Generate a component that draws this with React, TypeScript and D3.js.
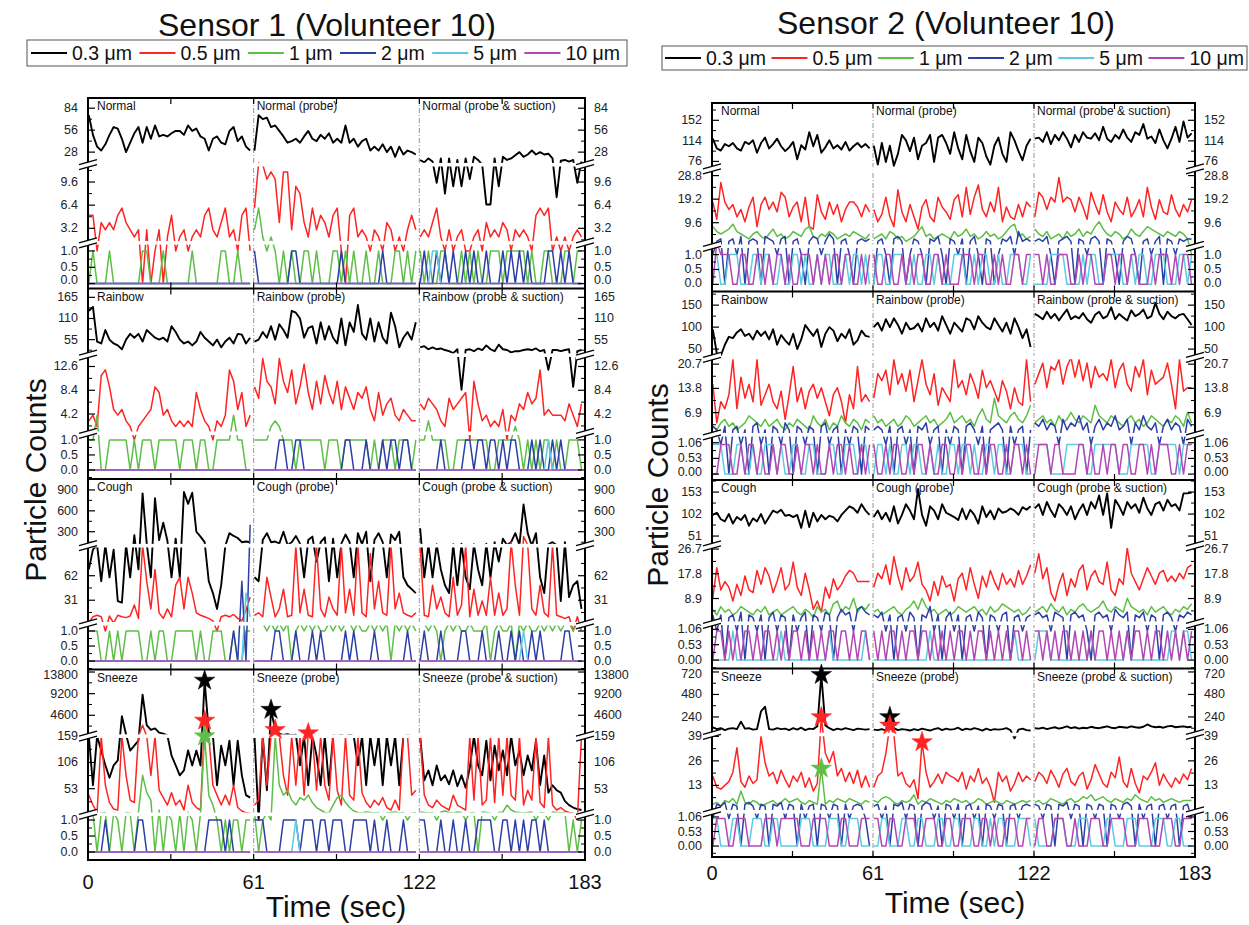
import React from 'react';
import * as d3 from 'd3';

type Seg = string | number[];
type Series = Seg[];

const FONT = "'Liberation Sans', Arial, Helvetica, sans-serif";

const TIME_TICKS = [0, 61, 122, 183];
const EDGE_TICKS = [30.5, 61, 91.5, 122, 152.5];
const ACTIVITIES = ['Normal', 'Rainbow', 'Cough', 'Sneeze'];
const CONDITIONS = ['', ' (probe)', ' (probe & suction)'];
const SIZES = ['0.3 μm', '0.5 μm', '1 μm', '2 μm', '5 μm', '10 μm'];
const COLORS = ['#000000', '#ff2424', '#5dbf47', '#2b3fa6', '#5ccbe0', '#b247b4'];
const WIDTHS = [1.9, 1.5, 1.5, 1.5, 1.5, 1.5];

const ZERO = '0000000000000000000000000000000000000000';

// ---------- Sensor 1 ----------
const S1_BANDS = [
  [[-0.15, 1.25], [1.2, 12], [12, 97]],
  [[-0.3, 1.22], [0.8, 14.6], [14.6, 188]],
  [[-0.28, 1.24], [1.2, 100], [100, 1057]],
  [[-0.25, 1.18], [1.4, 159], [159, 14335]],
];
const S1_TICKS = [
  [['0.0', '0.5', '1.0'], ['3.2', '6.4', '9.6'], ['28', '56', '84']],
  [['0.0', '0.5', '1.0'], ['4.2', '8.4', '12.6'], ['55', '110', '165']],
  [['0.0', '0.5', '1.0'], ['31', '62'], ['300', '600', '900']],
  [['0.0', '0.5', '1.0'], ['53', '106', '159'], ['4600', '9200', '13800']],
];

const S1_NORMAL_03: Series = [
  [75, 50, 35, 30, 38, 50, 60, 58, 45, 28, 40, 52, 60, 40, 60, 45, 62, 48, 50, 48, 52, 55, 55, 50, 62, 55, 58, 48, 45, 30, 45, 48, 40, 38, 55, 60, 42, 48, 35, 30],
  [30, 75, 70, 72, 60, 62, 55, 48, 40, 42, 45, 40, 48, 55, 45, 42, 50, 45, 52, 40, 45, 40, 62, 40, 45, 35, 42, 45, 30, 35, 30, 38, 28, 35, 22, 35, 25, 30, 28, 25],
  [18, 15, 20, 16, 9.5, 20, 8, 20, 9, 18, 9, 20, 10, 22, 18, 12, 6.5, 6.5, 20, 9, 22, 18, 20, 24, 28, 22, 25, 30, 25, 28, 25, 26, 20, 7.5, 17, 18, 16, 18, 9.5, 16],
];
const S1_NORMAL_05: Series = [
  [5, 5, 1, 4, 3, 4, 3, 5, 6, 4, 3, 2, 3, 0, 3, 0, 1, 3, 0, 2, 5, 1, 2, 3, 1, 2, 3, 2, 5, 6, 3, 2, 4, 6, 2, 3, 1, 5, 6, 1],
  [6, 14, 12, 10, 11, 10, 4, 11, 11, 3, 9, 8, 4, 2, 6, 3, 5, 4, 2, 5, 6, 1, 0, 5, 6, 2, 3, 2, 1, 3, 2, 1, 4, 3, 1, 2, 1, 3, 5, 3],
  [2, 3, 2, 4, 6, 2, 1, 3, 1, 2, 3, 1, 1, 2, 3, 1, 4, 2, 3, 2, 4, 3, 1, 3, 2, 3, 2, 1, 5, 6, 5, 6, 1, 2, 1, 2, 1, 2, 3, 2],
];
const S1_NORMAL_1: Series = ['0100010000000110001000000100000011001000', '3621210101001101000110101001001000110101', '1010011000101010011101111101001100011011'];
const S1_NORMAL_2: Series = [ZERO, '1000000001100000000001000000000100000000', '0100101010010100100010101010000110101000'];
const S1_NORMAL_5: Series = [ZERO, ZERO, '0001100000000000000000000000000000000000'];
const S1_NORMAL_10: Series = [ZERO, ZERO, ZERO];

const S1_RAINBOW_03: Series = [
  [130, 140, 50, 45, 80, 55, 45, 40, 30, 55, 70, 60, 70, 50, 80, 70, 60, 55, 60, 50, 90, 75, 55, 45, 50, 40, 50, 75, 60, 50, 40, 55, 35, 50, 60, 45, 70, 68, 45, 60],
  [50, 55, 75, 60, 90, 55, 95, 80, 60, 130, 125, 110, 60, 85, 90, 45, 100, 55, 90, 60, 45, 110, 40, 100, 75, 145, 70, 55, 110, 50, 100, 60, 45, 125, 90, 35, 60, 75, 55, 100],
  [35, 38, 30, 35, 30, 32, 28, 25, 20, 30, 8.5, 28, 30, 25, 32, 28, 40, 30, 25, 42, 30, 28, 22, 25, 25, 28, 30, 28, 32, 25, 28, 12, 28, 28, 25, 28, 30, 9, 25, 28],
];
const S1_RAINBOW_05: Series = [
  [3, 4, 2, 11, 12, 9, 5, 4, 5, 3, 2, 1, 2, 3, 4, 5, 9, 8, 4, 5, 3, 2, 3, 2, 3, 2, 8, 5, 3, 2, 1, 3, 2, 4, 12, 10, 5, 8, 2, 4],
  [9, 7, 14, 10, 9, 6, 14, 10, 8, 12, 6, 9, 13, 8, 5, 10, 6, 11, 8, 6, 10, 5, 9, 7, 5, 8, 7, 9, 5, 3, 8, 4, 6, 7, 4, 3, 5, 4, 3, 3],
  [6, 5, 7, 6, 5, 3, 2, 7, 5, 6, 7, 8, 1, 10, 6, 3, 4, 2, 3, 2, 5, 1, 4, 3, 6, 5, 8, 6, 7, 12, 4, 5, 4, 4, 4, 3, 6, 4, 2, 6],
];
const S1_RAINBOW_1: Series = ['1140011111010111011111011101100111141100', '1111232111011111101110111111010111011101', '1131111001111111100111121010101101001110'];
const S1_RAINBOW_2: Series = [ZERO, '0000001100110000000000110001000101101100', '0000010000011011011010110001010010100000'];
const S1_RAINBOW_5: Series = [ZERO, ZERO, '0000000000000000000000000000000100000000'];
const S1_RAINBOW_10: Series = [ZERO, ZERO, ZERO];

const S1_COUGH_03: Series = [
  [70, 95, 110, 55, 110, 60, 95, 30, 28, 110, 60, 250, 70, 850, 130, 60, 780, 180, 430, 170, 60, 200, 60, 870, 700, 860, 300, 230, 150, 55, 40, 20, 50, 100, 280, 240, 210, 150, 160, 150],
  [60, 55, 180, 280, 150, 160, 130, 300, 110, 150, 240, 130, 60, 180, 230, 80, 150, 220, 55, 200, 60, 130, 260, 150, 60, 280, 120, 300, 55, 180, 280, 150, 60, 260, 180, 300, 60, 50, 45, 40],
  [350, 60, 110, 60, 120, 70, 50, 40, 120, 50, 130, 60, 45, 120, 70, 50, 130, 60, 150, 80, 200, 110, 150, 280, 110, 690, 280, 100, 280, 60, 40, 120, 150, 110, 30, 150, 35, 50, 55, 20],
];
const S1_COUGH_05: Series = [
  [3, 10, 12, 10, 1, 11, 2, 12, 10, 9, 11, 25, 8, 110, 55, 20, 70, 15, 8, 20, 10, 50, 60, 20, 60, 40, 15, 12, 10, 8, 5, 1, 10, 12, 10, 13, 8, 5, 18, 35],
  [12, 15, 10, 60, 35, 10, 20, 45, 10, 12, 100, 15, 45, 12, 10, 110, 20, 10, 35, 20, 12, 100, 15, 45, 12, 110, 15, 10, 90, 20, 55, 15, 12, 110, 20, 40, 15, 12, 10, 15],
  [100, 12, 10, 50, 20, 35, 15, 10, 60, 12, 25, 110, 10, 45, 12, 30, 12, 60, 12, 40, 12, 20, 150, 50, 12, 230, 110, 20, 12, 50, 15, 10, 110, 12, 10, 8, 10, 1, 10, 1],
];
const S1_COUGH_1: Series = ['1110010101111001011001111101001110010011', '2221212120121212112121221211212120212121', '2212101212112111201211202121121212122121'];
const S1_COUGH_2: Series = [
  [0, 0, 0, 0, 0, 0, 0, 0, 0, 0, 0, 0, 0, 0, 0, 0, 0, 0, 0, 0, 0, 0, 0, 0, 0, 0, 0, 0, 0, 0, 0, 0, 0, 0, 0, 1, 0, 55, 0, 400],
  '0000011000100010100000101000010000000100',
  '0100010000110001000100101001010000011000',
];
const S1_COUGH_5: Series = [
  [0, 0, 0, 0, 0, 0, 0, 0, 0, 0, 0, 0, 0, 0, 0, 0, 0, 0, 0, 0, 0, 0, 0, 0, 0, 0, 0, 0, 0, 0, 0, 0, 0, 0, 0, 0, 0, 0, 40, 10],
  ZERO,
  '0000000000000000000000000100000000000000',
];
const S1_COUGH_10: Series = [ZERO, ZERO, ZERO];

const S1_SNEEZE_03: Series = [
  [159, 60, 170, 130, 100, 75, 100, 110, 4400, 500, 130, 140, 150, 9000, 2500, 1500, 1800, 900, 700, 300, 120, 100, 80, 90, 130, 100, 130, 100, 12000, 1000, 300, 60, 140, 100, 150, 60, 150, 80, 40, 35],
  [159, 1, 200, 50, 5800, 1500, 700, 400, 600, 300, 450, 100, 160, 60, 170, 120, 60, 200, 60, 300, 200, 350, 160, 400, 200, 100, 170, 60, 170, 100, 170, 60, 170, 100, 170, 60, 170, 300, 200, 160],
  [160, 70, 90, 60, 100, 70, 80, 62, 90, 58, 80, 55, 95, 160, 100, 80, 150, 70, 140, 90, 130, 80, 170, 100, 130, 80, 120, 90, 150, 60, 120, 45, 60, 50, 45, 28, 20, 15, 12, 10],
];
const S1_SNEEZE_05: Series = [
  [40, 20, 5, 160, 60, 25, 12, 10, 160, 80, 30, 25, 160, 2500, 160, 80, 160, 50, 35, 20, 45, 20, 30, 10, 60, 25, 15, 10, 3500, 160, 60, 40, 20, 40, 20, 60, 15, 8, 4, 4],
  [20, 30, 160, 60, 160, 1500, 160, 80, 40, 160, 60, 160, 40, 800, 160, 50, 160, 60, 30, 160, 50, 20, 160, 40, 30, 160, 45, 25, 15, 30, 20, 35, 15, 10, 30, 10, 160, 160, 40, 50],
  [160, 40, 20, 15, 30, 20, 15, 10, 40, 20, 15, 10, 160, 30, 160, 20, 30, 160, 25, 160, 40, 160, 40, 30, 160, 20, 50, 30, 160, 25, 15, 160, 20, 10, 15, 8, 5, 4, 1, 160],
];
const S1_SNEEZE_1: Series = [
  [5, 4, 0, 4, 5, 0, 4, 1, 0, 5, 4, 0, 6, 80, 45, 30, 0, 10, 0, 4, 1, 0, 4, 0, 6, 1, 0, 4, 159, 40, 20, 1, 0, 1, 0, 1, 1, 0, 1, 1],
  [5, 0, 1, 4, 1, 159, 60, 40, 50, 30, 20, 35, 30, 40, 25, 15, 10, 5, 4, 20, 35, 40, 25, 15, 8, 5, 4, 6, 5, 4, 5, 1, 4, 5, 6, 4, 5, 1, 4, 5],
  [6, 5, 4, 5, 1, 6, 8, 5, 4, 6, 5, 1, 4, 5, 0, 6, 5, 4, 1, 5, 6, 20, 10, 6, 5, 4, 5, 6, 1, 5, 4, 1, 6, 5, 4, 5, 0, 1, 0, 1],
];
const S1_SNEEZE_2: Series = ['0000100000001100000000000000011110100000', '1110000111101110110111001111010010001000', '1100010010010011110011010101101000000000'];
const S1_SNEEZE_5: Series = [ZERO, '0000000000100000000000000000000000000000', ZERO];
const S1_SNEEZE_10: Series = [ZERO, ZERO, ZERO];

// star markers: [activity, segment, index, series]
const S1_STARS = [[3, 0, 28, 0], [3, 0, 28, 1], [3, 0, 28, 2], [3, 1, 4, 0], [3, 1, 5, 1], [3, 1, 13, 1]];

// ---------- Sensor 2 ----------
const S2_BANDS = [
  [[-0.24, 1.28], [0, 31.5], [62, 184]],
  [[-0.2, 1.33], [0.6, 22.6], [31, 181]],
  [[-0.29, 1.27], [0, 27.8], [28, 181]],
  [[-0.4, 1.25], [-1, 40], [53, 757]],
];
const S2_TICKS = [
  [['0.0', '0.5', '1.0'], ['9.6', '19.2', '28.8'], ['76', '114', '152']],
  [['0.00', '0.53', '1.06'], ['6.9', '13.8', '20.7'], ['50', '100', '150']],
  [['0.00', '0.53', '1.06'], ['8.9', '17.8', '26.7'], ['51', '102', '153']],
  [['0.00', '0.53', '1.06'], ['13', '26', '39'], ['240', '480', '720']],
];

const S2_NORMAL_03: Series = [
  [118, 100, 96, 108, 104, 110, 100, 96, 112, 108, 115, 92, 110, 120, 100, 108, 118, 104, 95, 102, 112, 80, 106, 98, 130, 104, 125, 92, 102, 115, 100, 106, 98, 112, 96, 104, 110, 102, 108, 100],
  [105, 70, 110, 75, 105, 68, 90, 125, 115, 95, 120, 80, 105, 110, 125, 75, 120, 125, 110, 90, 130, 100, 80, 125, 95, 75, 120, 110, 85, 70, 105, 120, 90, 75, 130, 115, 95, 78, 105, 118],
  [118, 120, 112, 130, 108, 125, 115, 130, 118, 102, 125, 112, 130, 120, 118, 128, 115, 140, 118, 112, 125, 118, 135, 120, 112, 130, 125, 145, 118, 122, 110, 135, 115, 100, 118, 140, 112, 150, 120, 128],
];
const S2_NORMAL_05: Series = [
  [18, 11, 26, 18, 15, 17, 12, 15, 10, 16, 20, 8, 17, 20, 15, 18, 14, 22, 20, 12, 16, 18, 10, 20, 8, 7, 21, 14, 11, 18, 13, 17, 10, 15, 18, 18, 16, 12, 17, 14],
  [15, 10, 13, 20, 12, 8, 23, 14, 10, 17, 12, 7, 16, 19, 12, 10, 20, 16, 14, 11, 19, 21, 12, 24, 13, 20, 25, 15, 12, 18, 14, 24, 10, 16, 12, 11, 17, 12, 18, 16],
  [12, 22, 20, 15, 20, 18, 28, 18, 20, 19, 14, 20, 16, 11, 22, 17, 13, 21, 14, 10, 18, 15, 13, 20, 12, 15, 19, 12, 24, 16, 11, 19, 14, 13, 21, 15, 12, 17, 14, 19],
];
const S2_NORMAL_1: Series = [
  [8, 6, 5, 6, 7, 9, 6, 5, 4, 3, 5, 6, 4, 3, 5, 7, 4, 5, 3, 4, 6, 5, 4, 7, 8, 4, 3, 5, 4, 6, 5, 3, 4, 5, 4, 6, 5, 4, 3, 5],
  [3, 4, 5, 3, 6, 5, 3, 4, 2, 3, 4, 6, 8, 4, 5, 3, 4, 5, 4, 3, 6, 4, 5, 7, 4, 5, 3, 4, 6, 4, 5, 3, 4, 6, 8, 9, 4, 5, 3, 4],
  [7, 5, 4, 6, 3, 4, 5, 3, 6, 4, 5, 7, 4, 6, 5, 8, 10, 7, 5, 4, 6, 5, 3, 4, 7, 5, 4, 6, 8, 7, 6, 5, 4, 6, 5, 4, 6, 5, 3, 1],
];
const S2_NORMAL_2: Series = ['1230231402320432134023102431253023102323', '0231034201321032410321302410320132416232', '2324102342032134203210243102312403213233'];
const S2_NORMAL_5: Series = ['1100111000110110010011010010110001011010', '0110011100100110100011100101100100111001', '0000111100001011001111001011001110001101'];
const S2_NORMAL_10: Series = ['0211100110011010110100111010101101100101', '1001100101011001101000111011001010011011', '1101001110010110001101101100010111010110'];

const S2_RAINBOW_03: Series = [
  [95, 40, 35, 60, 78, 75, 88, 95, 80, 85, 72, 92, 80, 90, 72, 95, 60, 82, 70, 60, 85, 50, 72, 105, 92, 80, 95, 55, 85, 100, 92, 68, 85, 75, 95, 60, 70, 92, 80, 78],
  [100, 110, 92, 118, 100, 120, 105, 85, 110, 95, 98, 108, 90, 120, 100, 110, 92, 125, 105, 85, 110, 100, 90, 120, 115, 95, 125, 110, 100, 95, 120, 105, 90, 110, 85, 120, 100, 75, 95, 55],
  [130, 125, 118, 135, 120, 130, 115, 128, 140, 118, 125, 120, 132, 118, 110, 128, 135, 120, 125, 145, 118, 130, 122, 115, 138, 125, 130, 140, 120, 125, 155, 130, 118, 135, 125, 120, 128, 130, 118, 105],
];
const S2_RAINBOW_05: Series = [
  [15, 4, 10, 8, 12, 22, 8, 17, 11, 15, 10, 22, 9, 12, 15, 10, 8, 13, 5, 12, 20, 10, 14, 8, 13, 15, 11, 14, 10, 6, 12, 14, 10, 4, 12, 8, 20, 10, 12, 10],
  [11, 18, 16, 19, 12, 22, 15, 18, 13, 19, 10, 16, 22, 15, 12, 18, 9, 14, 12, 10, 22, 14, 16, 12, 18, 15, 11, 19, 14, 16, 13, 10, 16, 13, 8, 14, 10, 9, 22, 10],
  [15, 18, 21, 14, 20, 19, 22, 15, 20, 23, 17, 22, 16, 21, 14, 20, 17, 18, 16, 22, 14, 19, 21, 15, 13, 20, 17, 22, 12, 19, 15, 16, 17, 21, 15, 8, 22, 13, 14, 14],
];
const S2_RAINBOW_1: Series = [
  [3, 2, 4, 5, 3, 4, 2, 3, 4, 6, 5, 4, 3, 5, 3, 4, 5, 3, 2, 4, 3, 5, 4, 3, 2, 6, 4, 3, 5, 2, 4, 3, 6, 4, 3, 5, 4, 2, 5, 4],
  [6, 4, 5, 3, 4, 5, 3, 4, 6, 5, 3, 4, 5, 6, 4, 5, 3, 4, 5, 7, 4, 5, 6, 4, 5, 3, 6, 8, 5, 4, 11, 6, 5, 4, 6, 7, 5, 4, 6, 9],
  [4, 5, 6, 4, 5, 3, 6, 4, 5, 7, 5, 4, 6, 5, 4, 9, 6, 5, 4, 6, 5, 4, 3, 5, 6, 4, 5, 3, 4, 6, 5, 4, 3, 5, 4, 6, 5, 3, 7, 4],
];
const S2_RAINBOW_2: Series = ['3213023120341203214203213203412302132032', '2321302312032412302132034213023420312302', '4352431524362413524362351426324135243153'];
const S2_RAINBOW_5: Series = ['1110001100100111010011001100011001110110', '0110100110110010100110110100110110011100', '1111000011111001111110001111100111110111'];
const S2_RAINBOW_10: Series = ['0011100101101001011001011010010110100101', '1001011001011010011001011001011001011010', '0111011000011010010110110011010111001011'];

const S2_COUGH_03: Series = [
  [100, 105, 90, 85, 102, 80, 95, 88, 100, 75, 92, 85, 102, 80, 95, 110, 105, 112, 98, 100, 95, 100, 70, 110, 72, 105, 85, 100, 90, 98, 95, 85, 100, 110, 120, 115, 105, 125, 110, 100],
  [95, 110, 90, 105, 85, 120, 80, 100, 125, 110, 90, 160, 100, 75, 120, 110, 90, 125, 105, 100, 95, 88, 115, 90, 112, 100, 80, 120, 95, 110, 90, 115, 105, 108, 115, 110, 100, 118, 112, 120],
  [115, 125, 100, 130, 110, 95, 125, 115, 100, 120, 90, 110, 125, 100, 130, 115, 145, 100, 150, 70, 135, 120, 100, 130, 115, 125, 105, 140, 115, 100, 125, 130, 110, 135, 120, 125, 110, 150, 150, 152],
];
const S2_COUGH_05: Series = [
  [9, 20, 12, 15, 13, 8, 14, 10, 17, 12, 11, 19, 14, 20, 17, 11, 15, 20, 12, 14, 22, 13, 10, 18, 12, 5, 8, 4, 13, 9, 16, 12, 14, 17, 19, 18, 15, 15, 15, 15],
  [13, 18, 16, 21, 14, 24, 17, 12, 20, 15, 17, 22, 14, 12, 8, 15, 10, 17, 13, 14, 8, 16, 18, 12, 20, 14, 9, 17, 13, 19, 15, 12, 18, 14, 16, 13, 19, 14, 17, 21],
  [18, 25, 16, 20, 11, 8, 14, 18, 10, 16, 13, 19, 21, 12, 17, 19, 15, 14, 22, 12, 10, 16, 14, 27, 18, 15, 12, 16, 20, 17, 14, 18, 19, 15, 17, 15, 18, 16, 20, 21],
];
const S2_COUGH_1: Series = [
  [5, 3, 6, 4, 5, 3, 4, 6, 5, 4, 3, 5, 4, 6, 3, 4, 5, 3, 4, 5, 6, 4, 3, 5, 4, 2, 6, 4, 5, 3, 7, 8, 4, 6, 5, 9, 4, 6, 5, 7],
  [4, 5, 3, 4, 5, 6, 4, 3, 5, 6, 8, 5, 9, 6, 4, 5, 3, 4, 5, 3, 4, 6, 5, 4, 5, 6, 4, 5, 3, 6, 4, 5, 7, 6, 5, 4, 5, 3, 4, 6],
  [4, 5, 6, 4, 7, 5, 4, 6, 3, 5, 4, 6, 7, 5, 4, 5, 6, 8, 5, 4, 6, 5, 4, 9, 6, 5, 4, 5, 3, 6, 4, 5, 6, 4, 3, 5, 4, 6, 5, 7],
];
const S2_COUGH_2: Series = ['3130231403213024132031240321430253415643', '3241302314203261302413023142032134023123', '3423143203423103423153240324132034213243'];
const S2_COUGH_5: Series = ['0000010000000000010000000000010000000010', '0000000000000010000000000000000000010000', '0111000000000010000000010000000000110110'];
const S2_COUGH_10: Series = ['0110101011010110101011010101011011010110', '1010110101101101010101101011010101011010', '1101010110101010110101010110101101010101'];

const S2_SNEEZE_03: Series = [
  [130, 110, 120, 100, 115, 120, 110, 190, 115, 120, 105, 110, 300, 350, 110, 105, 120, 110, 115, 100, 120, 105, 125, 100, 115, 110, 140, 690, 150, 120, 100, 115, 105, 120, 110, 100, 115, 110, 105, 110],
  [105, 100, 110, 95, 240, 120, 100, 110, 105, 95, 110, 100, 115, 105, 95, 110, 120, 100, 115, 105, 110, 125, 100, 115, 105, 120, 110, 95, 115, 100, 110, 105, 110, 120, 100, 38, 105, 115, 100, 95],
  [120, 115, 125, 110, 120, 130, 115, 125, 140, 120, 130, 115, 125, 120, 135, 125, 120, 130, 140, 125, 120, 135, 130, 125, 140, 130, 125, 135, 160, 140, 130, 135, 125, 140, 145, 130, 135, 140, 130, 135],
];
const S2_SNEEZE_05: Series = [
  [18, 12, 11, 13, 15, 20, 33, 15, 12, 18, 14, 16, 39, 25, 18, 20, 14, 21, 16, 12, 18, 15, 20, 12, 17, 10, 14, 240, 30, 25, 31, 18, 22, 15, 20, 14, 21, 12, 18, 12],
  [12, 18, 20, 30, 150, 40, 18, 20, 14, 12, 16, 6, 36, 20, 12, 15, 19, 14, 20, 18, 17, 15, 20, 11, 18, 15, 22, 14, 17, 12, 4, 20, 15, 18, 10, 14, 20, 15, 18, 16],
  [15, 20, 18, 14, 21, 17, 12, 19, 22, 15, 13, 18, 20, 11, 16, 24, 19, 14, 12, 20, 17, 28, 15, 12, 22, 14, 9, 18, 16, 20, 25, 13, 19, 15, 12, 17, 14, 19, 16, 22],
];
const S2_SNEEZE_1: Series = [
  [3, 4, 2, 5, 4, 6, 3, 10, 4, 3, 5, 4, 2, 3, 4, 5, 3, 4, 6, 4, 5, 6, 4, 3, 5, 4, 3, 22, 3, 5, 4, 6, 5, 4, 6, 5, 4, 3, 5, 4],
  [5, 4, 6, 7, 6, 4, 3, 5, 4, 5, 8, 3, 5, 4, 6, 5, 4, 3, 5, 4, 6, 5, 4, 5, 3, 4, 6, 5, 3, 4, 5, 4, 3, 5, 4, 3, 4, 5, 4, 5],
  [4, 5, 3, 4, 6, 5, 4, 3, 5, 6, 4, 5, 7, 6, 8, 5, 6, 7, 5, 4, 6, 5, 4, 6, 5, 8, 6, 5, 4, 7, 5, 6, 4, 5, 6, 5, 4, 5, 5, 5],
];
const S2_SNEEZE_2: Series = ['1324132034213203241320312303213203123210', '2312032413202431203213023120321320231232', '3213203241320321320321342031230231230231'];
const S2_SNEEZE_5: Series = ['1100011000111001100000111000011100111000', '0011000110011000110011000110010110001110', '1000011100011100001100011100001110011000'];
const S2_SNEEZE_10: Series = ['0111001110000111011111000111100011000111', '1100110011100111001100111001101001110011', '0110011100100011100111100011100011100111'];

const S2_STARS = [[3, 0, 27, 0], [3, 0, 27, 1], [3, 0, 27, 2], [3, 1, 4, 0], [3, 1, 4, 1], [3, 1, 12, 1]];

const parseSeg = (s: Seg): number[] => (typeof s === 'string' ? s.split('').map(Number) : s);

const SENSORS = [
  {
    title: 'Sensor 1 (Volunteer 10)', titleX: 327, titleY: 36,
    legend: { x: 27, y: 40, w: 600, h: 26, start: 31, end: 620 },
    x0: 88, x1: 585, top: 98, bottom: 860,
    xLabelY: 889, timeX: 336, timeY: 917, pcX: 35, pcY: 480,
    bands: S1_BANDS, ticks: S1_TICKS, stars: S1_STARS,
    data: [
      [S1_NORMAL_03, S1_NORMAL_05, S1_NORMAL_1, S1_NORMAL_2, S1_NORMAL_5, S1_NORMAL_10],
      [S1_RAINBOW_03, S1_RAINBOW_05, S1_RAINBOW_1, S1_RAINBOW_2, S1_RAINBOW_5, S1_RAINBOW_10],
      [S1_COUGH_03, S1_COUGH_05, S1_COUGH_1, S1_COUGH_2, S1_COUGH_5, S1_COUGH_10],
      [S1_SNEEZE_03, S1_SNEEZE_05, S1_SNEEZE_1, S1_SNEEZE_2, S1_SNEEZE_5, S1_SNEEZE_10],
    ],
  },
  {
    title: 'Sensor 2 (Volunteer 10)', titleX: 946, titleY: 34,
    legend: { x: 662, y: 46, w: 585, h: 24, start: 665, end: 1244 },
    x0: 712, x1: 1195, top: 103, bottom: 857,
    xLabelY: 880, timeX: 955, timeY: 913, pcX: 657, pcY: 485,
    bands: S2_BANDS, ticks: S2_TICKS, stars: S2_STARS,
    data: [
      [S2_NORMAL_03, S2_NORMAL_05, S2_NORMAL_1, S2_NORMAL_2, S2_NORMAL_5, S2_NORMAL_10],
      [S2_RAINBOW_03, S2_RAINBOW_05, S2_RAINBOW_1, S2_RAINBOW_2, S2_RAINBOW_5, S2_RAINBOW_10],
      [S2_COUGH_03, S2_COUGH_05, S2_COUGH_1, S2_COUGH_2, S2_COUGH_5, S2_COUGH_10],
      [S2_SNEEZE_03, S2_SNEEZE_05, S2_SNEEZE_1, S2_SNEEZE_2, S2_SNEEZE_5, S2_SNEEZE_10],
    ],
  },
];

let measureCtx: any = null;
function textWidth(t: string, size: number) {
  if (!measureCtx && typeof document !== 'undefined') {
    measureCtx = document.createElement('canvas').getContext('2d');
  }
  if (!measureCtx) return t.length * size * 0.55;
  measureCtx.font = `${size}px 'Liberation Sans', Arial, sans-serif`;
  return measureCtx.measureText(t).width;
}

const tOf = (k: number, i: number, n: number) => 61 * k + 0.3 + (i * 59.4) / (n - 1);

function BreakMark({ x, y }: { x: number; y: number }) {
  return (
    <g>
      <polygon points={`${x - 9},${y} ${x + 9},${y - 5} ${x + 9},${y} ${x - 9},${y + 5}`} fill="#fff" />
      <line x1={x - 9} y1={y} x2={x + 9} y2={y - 5} stroke="#000" strokeWidth={1.3} />
      <line x1={x - 9} y1={y + 5} x2={x + 9} y2={y} stroke="#000" strokeWidth={1.3} />
    </g>
  );
}

function SensorChart({ cfg, idx }: { cfg: any; idx: number }) {
  const { x0, x1, top, bottom } = cfg;
  const xs = d3.scaleLinear().domain([0, 183]).range([x0, x1]);
  const ph = (bottom - top) / 4;
  const line = d3.line<[number, number]>().x((d) => d[0]).y((d) => d[1]);
  const star = d3.symbol().type(d3.symbolStar).size(130)() as string;

  const panels = ACTIVITIES.map((act, a) => {
    const pTop = top + a * ph;
    const pBot = pTop + ph;
    const b1 = pTop + ph * 0.35;
    const b2 = pTop + ph * 0.76;
    const bands = cfg.bands[a];
    const sc = [
      d3.scaleLinear().domain(bands[0]).range([pBot, b2]),
      d3.scaleLinear().domain(bands[1]).range([b2, b1]),
      d3.scaleLinear().domain(bands[2]).range([b1, pTop]),
    ];
    const y = (v: number) => {
      if (v <= bands[0][1]) return sc[0](Math.max(v, bands[0][0]));
      if (v <= bands[1][1]) return sc[1](Math.max(v, bands[1][0]));
      return sc[2](Math.min(Math.max(v, bands[2][0]), bands[2][1]));
    };
    return { act, a, pTop, pBot, b1, b2, sc, y };
  });

  // legend layout
  const lg = cfg.legend;
  const lineLen = 36;
  const lfs = 19.5;
  const tw = SIZES.map((s) => textWidth(s, lfs));
  const totalFixed = SIZES.length * (lineLen + 5) + tw.reduce((p, c) => p + c, 0);
  const gap = (lg.end - lg.start - totalFixed) / (SIZES.length - 1);
  let cx = lg.start;
  const legendItems = SIZES.map((s, i) => {
    const item = { lx: cx, tx: cx + lineLen + 5, label: s, color: COLORS[i] };
    cx += lineLen + 5 + tw[i] + gap;
    return item;
  });
  const ly = lg.y + lg.h / 2;

  return (
    <g>
      <defs>
        {panels.map((p) => (
          <clipPath id={`clip-${idx}-${p.a}`} key={p.a}>
            <rect x={x0} y={p.pTop} width={x1 - x0} height={p.pBot - p.pTop} />
          </clipPath>
        ))}
      </defs>

      <text x={cfg.titleX} y={cfg.titleY} textAnchor="middle" fontSize={32} fontFamily={FONT} fill="#111">
        {cfg.title}
      </text>

      <rect x={lg.x} y={lg.y} width={lg.w} height={lg.h} fill="#fff" stroke="#555" strokeWidth={1} />
      {legendItems.map((it, i) => (
        <g key={i}>
          <line x1={it.lx} x2={it.lx + lineLen} y1={ly} y2={ly} stroke={it.color} strokeWidth={2} />
          <text x={it.tx} y={ly} dominantBaseline="central" fontSize={lfs} fontFamily={FONT} fill="#111">
            {it.label}
          </text>
        </g>
      ))}

      {/* separators */}
      {[61, 122].map((t) => (
        <line key={t} x1={xs(t)} x2={xs(t)} y1={top} y2={bottom} stroke="#8a8a8a" strokeWidth={0.9} strokeDasharray="5 2 1 2" />
      ))}

      {panels.map((p) => (
        <g key={p.a}>
          <g clipPath={`url(#clip-${idx}-${p.a})`}>
            {cfg.data[p.a].map((series: Series, s: number) =>
              series.map((seg: Seg, k: number) => {
                const vals = parseSeg(seg);
                const pts = vals.map((v, i) => [xs(tOf(k, i, vals.length)), p.y(v)] as [number, number]);
                return (
                  <path key={`${s}-${k}`} d={line(pts) || ''} fill="none" stroke={COLORS[s]} strokeWidth={WIDTHS[s]} strokeLinejoin="round" />
                );
              })
            )}
          </g>
          {/* break gaps */}
          {[p.b1, p.b2].map((b, j) => (
            <rect key={j} x={x0 + 1} y={b - 1.8} width={x1 - x0 - 2} height={3.6} fill="#fff" />
          ))}
          {/* panel label */}
          {CONDITIONS.map((c, k) => (
            <text key={k} x={xs(61 * k) + (k === 0 ? 9 : 3)} y={p.pTop + 12} fontSize={12} fontFamily={FONT} fill="#111">
              {p.act + c}
            </text>
          ))}
          {/* top/bottom edge ticks */}
          {EDGE_TICKS.map((t) => (
            <g key={t}>
              <line x1={xs(t)} x2={xs(t)} y1={p.pTop} y2={p.pTop + 6} stroke="#000" strokeWidth={1.2} />
              <line x1={xs(t)} x2={xs(t)} y1={p.pBot - 6} y2={p.pBot} stroke="#000" strokeWidth={1.2} />
            </g>
          ))}
          {/* panel border top */}
          <line x1={x0} x2={x1} y1={p.pTop} y2={p.pTop} stroke="#000" strokeWidth={2} />
          {/* y ticks */}
          {[0, 1, 2].map((bi) => {
            const labels: string[] = cfg.ticks[p.a][bi];
            const vals = labels.map(Number);
            const step = vals.length > 1 ? vals[1] - vals[0] : vals[0];
            const dom = cfg.bands[p.a][bi];
            const minors: number[] = [];
            for (let k = -4; k <= vals.length * 2 + 2; k++) {
              const v = vals[0] + (k * step) / 2;
              if (k % 2 !== 0 && v > dom[0] && v < dom[1]) minors.push(v);
            }
            return (
              <g key={bi}>
                {vals.map((v, j) => {
                  const yy = p.sc[bi](v);
                  // small nudge so that labels at panel edges do not collide with neighbours
                  let ty = yy;
                  if (bi === 2 && j === vals.length - 1) ty = Math.max(yy, p.pTop + 5.5);
                  if (bi === 0 && j === 0) ty = Math.min(yy, p.pBot - 8.5);
                  return (
                    <g key={j}>
                      <line x1={x0} x2={x0 + 7} y1={yy} y2={yy} stroke="#000" strokeWidth={1.2} />
                      <line x1={x1 - 7} x2={x1} y1={yy} y2={yy} stroke="#000" strokeWidth={1.2} />
                      <text x={x0 - 10} y={ty} textAnchor="end" dominantBaseline="central" fontSize={12.5} fontFamily={FONT} fill="#222">
                        {labels[j]}
                      </text>
                      <text x={x1 + 9} y={ty} textAnchor="start" dominantBaseline="central" fontSize={12.5} fontFamily={FONT} fill="#222">
                        {labels[j]}
                      </text>
                    </g>
                  );
                })}
                {minors.map((v, j) => {
                  const yy = p.sc[bi](v);
                  return (
                    <g key={`m${j}`}>
                      <line x1={x0} x2={x0 + 4} y1={yy} y2={yy} stroke="#000" strokeWidth={1} />
                      <line x1={x1 - 4} x2={x1} y1={yy} y2={yy} stroke="#000" strokeWidth={1} />
                    </g>
                  );
                })}
              </g>
            );
          })}
        </g>
      ))}

      {/* outer frame */}
      <rect x={x0} y={top} width={x1 - x0} height={bottom - top} fill="none" stroke="#000" strokeWidth={2} />

      {/* break marks on axes */}
      {panels.map((p) =>
        [p.b1, p.b2].map((b, j) => (
          <g key={`${p.a}-${j}`}>
            <BreakMark x={x0} y={b} />
            <BreakMark x={x1} y={b} />
          </g>
        ))
      )}

      {/* stars */}
      {cfg.stars.map((st: number[], i: number) => {
        const [a, k, ii, s] = st;
        const vals = parseSeg(cfg.data[a][s][k]);
        const px = xs(tOf(k, ii, vals.length));
        const py = panels[a].y(vals[ii]);
        return <path key={i} d={star} transform={`translate(${px},${py})`} fill={COLORS[s]} stroke={COLORS[s]} strokeWidth={0.5} />;
      })}

      {/* x tick labels */}
      {TIME_TICKS.map((t) => (
        <text key={t} x={xs(t)} y={cfg.xLabelY} textAnchor="middle" fontSize={20} fontFamily={FONT} fill="#111">
          {t}
        </text>
      ))}

      <text x={cfg.timeX} y={cfg.timeY} textAnchor="middle" fontSize={30} fontFamily={FONT} fill="#111">
        Time (sec)
      </text>
      <text
        transform={`translate(${cfg.pcX},${cfg.pcY}) rotate(-90)`}
        textAnchor="middle"
        dominantBaseline="central"
        fontSize={30}
        fontFamily={FONT}
        fill="#111"
      >
        Particle Counts
      </text>
    </g>
  );
}

export default function App() {
  return (
    <svg width={1249} height={925} style={{ position: 'absolute', left: 0, top: 0, background: '#fff' }}>
      <rect x={0} y={0} width={1249} height={925} fill="#fff" />
      {SENSORS.map((cfg, i) => (
        <SensorChart key={i} cfg={cfg} idx={i} />
      ))}
    </svg>
  );
}
